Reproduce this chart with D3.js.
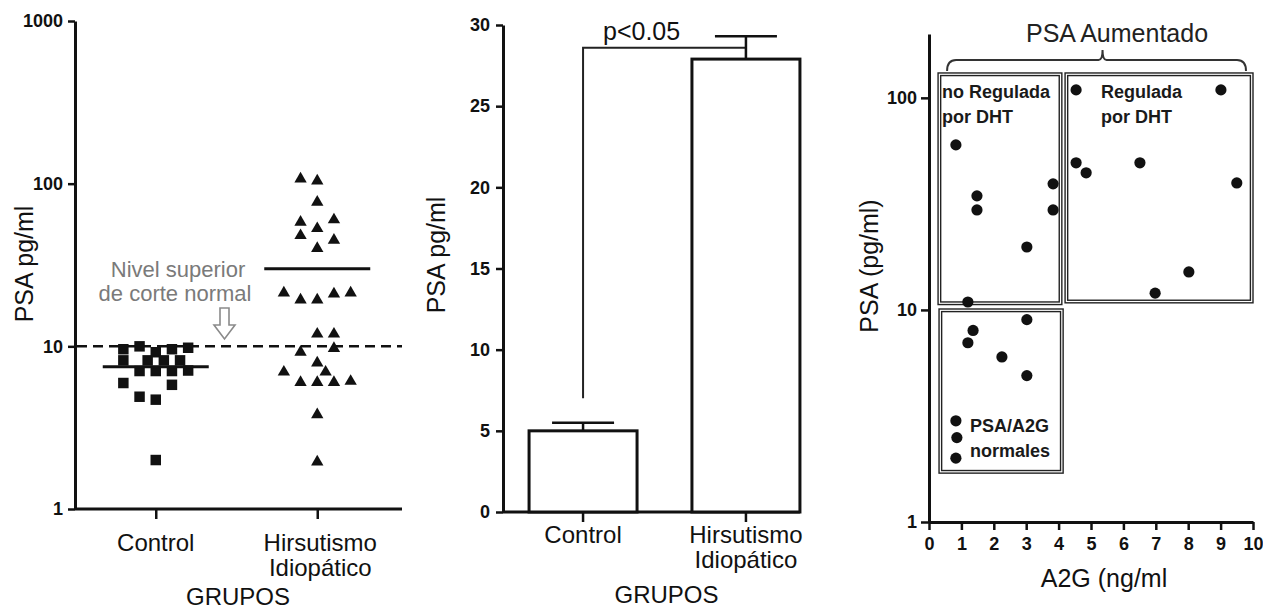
<!DOCTYPE html>
<html>
<head>
<meta charset="utf-8">
<script src="https://cdn.jsdelivr.net/npm/d3@7"></script>
<style>
	body { margin: 0; background: #fff; }
	svg text { font-family: "Liberation Sans", Arial, sans-serif; }
</style>
</head>
<body>
<svg id="chart" width="1263" height="609"></svg>
<script>
// ---- data ----
const groups = ["Control", "Hirsutismo Idiopático"];
const groupLines = [["Control"], ["Hirsutismo", "Idiopático"]];

// panel A: individual PSA values, slot = column in the dot arrangement
const controlPsa = [9.6, 8.2, 5.95, 10.0, 7.05, 4.9, 8.2, 9.2, 7.05, 4.7, 2.0, 8.2, 9.6, 7.05, 5.8, 8.2, 9.8, 7.1];
const controlSlot = [-2, -2, -2, -1, -1, -1, -0.5, 0, 0, 0, 0, 0.5, 1, 1, 1, 1.5, 2, 2];
const hirsutPsa = [107, 104, 77, 58, 48, 53, 60, 45, 40, 21.3, 19.3, 19.3, 21, 21.3, 11.9, 11.9, 9.2, 9.7, 7.9, 6.95, 6.95, 6, 6, 6, 6.1, 3.8, 1.95];
const hirsutSlot = [-1, 0, 0, -1, -1, 0, 1, 1, 0, -2, -1, 0, 1, 2, 0, 1, -1, 1, 0, 0.5, -2, -1, 0, 1, 2, 0, 0];
const groupMeansA = [7.5, 30];
const cutoff = 10;

// panel B: mean +- SEM
const barMeans = [5.0, 27.9];
const barSem = [0.5, 1.4];
const bracketLow = 7.0;
const bracketHigh = 28.6;
const pLabel = "p<0.05";

// panel C: A2G vs PSA
const a2g = [0.83, 1.48, 1.48, 3.83, 3.83, 3.02, 1.2, 4.54, 9.01, 4.54, 4.85, 6.51, 9.5, 8.02, 6.98, 3.02, 1.36, 1.2, 2.25, 3.02, 0.83, 0.86, 0.83];
const psa = [60, 34.5, 29.6, 39.3, 29.6, 19.8, 10.9, 109, 109, 49.4, 44.3, 49.4, 39.7, 15.1, 12.0, 9.0, 8.0, 7.0, 6.0, 4.9, 3.0, 2.5, 2.0];
const regionNames = [["no Regulada", "por DHT"], ["Regulada", "por DHT"], ["PSA/A2G", "normales"]];
const regionA2g = [[0.28, 4.1], [4.2, 10.0], [0.31, 4.14]];
const regionPsa = [[10.6, 131], [10.8, 131], [1.7, 10.1]];

// ---- helpers ----
const ink = "#111";
const svg = d3.select("#chart");

function styleAxis(g) {
	g.select(".domain").attr("stroke", ink).attr("stroke-width", 3);
	g.selectAll(".tick line").attr("stroke", ink).attr("stroke-width", 2.5);
	g.selectAll(".tick text")
		.attr("font-size", 18)
		.attr("font-weight", "bold")
		.attr("fill", ink);
}

function yTitle(x, y, text) {
	svg.append("text")
		.attr("transform", `translate(${x},${y}) rotate(-90)`)
		.attr("text-anchor", "middle")
		.attr("font-size", 25)
		.attr("fill", ink)
		.text(text);
}

// ================= Panel A =================
const yA = d3.scaleLog().domain([1, 1000]).range([509, 21]);
const xA = d3.scalePoint().domain(groups).range([75, 398]).padding(0.5);
const slotA = 16.2;

const axA = svg.append("g")
	.attr("transform", "translate(75,0)")
	.call(d3.axisLeft(yA).tickValues([1, 10, 100, 1000]).tickFormat(d3.format("d"))
		.tickSize(7).tickSizeOuter(0).tickPadding(5));
styleAxis(axA);

const bxA = svg.append("g")
	.attr("transform", "translate(0,509)")
	.call(d3.axisBottom(xA).tickSize(10).tickSizeOuter(0).tickFormat(""));
bxA.select(".domain").attr("d", "M75,0H402");
styleAxis(bxA);

// cut-off line
svg.append("line")
	.attr("x1", 77).attr("x2", 402)
	.attr("y1", yA(cutoff)).attr("y2", yA(cutoff))
	.attr("stroke", ink).attr("stroke-width", 2.5)
	.attr("stroke-dasharray", "10,6");

// squares
svg.append("g").selectAll("path")
	.data(controlPsa)
	.join("path")
	.attr("transform", (d, i) => `translate(${xA(groups[0]) + controlSlot[i] * slotA},${yA(d)})`)
	.attr("d", d3.symbol(d3.symbolSquare, 110))
	.attr("fill", ink);

// triangles
svg.append("g").selectAll("path")
	.data(hirsutPsa)
	.join("path")
	.attr("transform", (d, i) => `translate(${xA(groups[1]) + hirsutSlot[i] * 16.7},${yA(d)})`)
	.attr("d", d3.symbol(d3.symbolTriangle, 66))
	.attr("fill", ink);

// group means
svg.append("g").selectAll("line")
	.data(groupMeansA)
	.join("line")
	.attr("x1", (d, i) => xA(groups[i]) - 53)
	.attr("x2", (d, i) => xA(groups[i]) + 53)
	.attr("y1", (d) => yA(d))
	.attr("y2", (d) => yA(d))
	.attr("stroke", ink)
	.attr("stroke-width", 3);

// note + hollow arrow
const noteA = svg.append("g").attr("fill", "#7a7a7a").attr("font-size", 22).attr("text-anchor", "middle");
noteA.append("text").attr("x", 178).attr("y", 277).text("Nivel superior");
noteA.append("text").attr("x", 175).attr("y", 301).text("de corte normal");
svg.append("path")
	.attr("d", "M220,308 H229 V325 H235 L224.5,339 L214,325 H220 Z")
	.attr("fill", "#fff")
	.attr("stroke", "#8a8a8a")
	.attr("stroke-width", 1.6);

groupLines.forEach((lines, i) => {
	lines.forEach((t, j) => {
		svg.append("text")
			.attr("x", xA(groups[i]) + (i ? 3 : 0))
			.attr("y", 551 + j * 25)
			.attr("text-anchor", "middle")
			.attr("font-size", 24)
			.attr("fill", ink)
			.text(t);
	});
});
svg.append("text").attr("x", 238).attr("y", 605).attr("text-anchor", "middle")
	.attr("font-size", 24).attr("fill", ink).text("GRUPOS");
yTitle(33, 264, "PSA pg/ml");

// ================= Panel B =================
const yB = d3.scaleLinear().domain([0, 30]).range([512, 25]);
const xB = d3.scaleBand().domain(groups).range([503, 826]).paddingInner(0.337).paddingOuter(0.16);
const bw = xB.bandwidth();

const axB = svg.append("g")
	.attr("transform", "translate(503,0)")
	.call(d3.axisLeft(yB).tickValues([0, 5, 10, 15, 20, 25, 30])
		.tickSize(7).tickSizeOuter(0).tickPadding(6));
styleAxis(axB);

const bxB = svg.append("g")
	.attr("transform", "translate(0,512)")
	.call(d3.axisBottom(xB).tickSize(10).tickSizeOuter(0).tickFormat(""));
bxB.select(".domain").attr("d", `M503,0H${xB(groups[1]) + bw}`);
styleAxis(bxB);

// bracket (drawn first, bars on top)
const cx0 = xB(groups[0]) + bw / 2;
const cx1 = xB(groups[1]) + bw / 2;
svg.append("path")
	.attr("d", `M${cx0},${yB(bracketLow)} V${yB(bracketHigh)} H${cx1} V${yB(barMeans[1])}`)
	.attr("fill", "none")
	.attr("stroke", "#222")
	.attr("stroke-width", 2);
svg.append("text").attr("x", 603).attr("y", 40).attr("font-size", 25).attr("fill", ink).text(pLabel);

// error bars
groups.forEach((g, i) => {
	const cx = xB(g) + bw / 2;
	svg.append("line")
		.attr("x1", cx).attr("x2", cx)
		.attr("y1", yB(barMeans[i])).attr("y2", yB(barMeans[i] + barSem[i]))
		.attr("stroke", ink).attr("stroke-width", 2.5);
	svg.append("line")
		.attr("x1", cx - 31).attr("x2", cx + 31)
		.attr("y1", yB(barMeans[i] + barSem[i])).attr("y2", yB(barMeans[i] + barSem[i]))
		.attr("stroke", ink).attr("stroke-width", 2.5);
});

svg.append("g").selectAll("rect")
	.data(barMeans)
	.join("rect")
	.attr("x", (d, i) => xB(groups[i]))
	.attr("y", (d) => yB(d))
	.attr("width", bw)
	.attr("height", (d) => yB(0) - yB(d))
	.attr("fill", "#fff")
	.attr("stroke", ink)
	.attr("stroke-width", 3);

groupLines.forEach((lines, i) => {
	lines.forEach((t, j) => {
		svg.append("text")
			.attr("x", xB(groups[i]) + bw / 2)
			.attr("y", 543 + j * 25)
			.attr("text-anchor", "middle")
			.attr("font-size", 24)
			.attr("fill", ink)
			.text(t);
	});
});
svg.append("text").attr("x", (cx0 + cx1) / 2 + 2).attr("y", 603).attr("text-anchor", "middle")
	.attr("font-size", 24).attr("fill", ink).text("GRUPOS");
yTitle(445, 255, "PSA pg/ml");

// ================= Panel C =================
const xC = d3.scaleLinear().domain([0, 10]).range([929, 1253]);
const yC = d3.scaleLog().domain([1, 200]).range([522, 34]);

// region boxes (double outline)
const regions = svg.append("g");
regionNames.forEach((names, i) => {
	const x0 = xC(regionA2g[i][0]), x1 = xC(regionA2g[i][1]);
	const y0 = yC(regionPsa[i][1]), y1 = yC(regionPsa[i][0]);
	regions.append("rect")
		.attr("x", x0).attr("y", y0).attr("width", x1 - x0).attr("height", y1 - y0)
		.attr("fill", "#fff").attr("stroke", "#222").attr("stroke-width", 1.4);
	regions.append("rect")
		.attr("x", x0 + 2.6).attr("y", y0 + 2.6).attr("width", x1 - x0 - 5.2).attr("height", y1 - y0 - 5.2)
		.attr("fill", "none").attr("stroke", "#222").attr("stroke-width", 1.4);
});

// region labels
const labelOffset = [[4, 25], [36, 25], [31, -41]];
regionNames.forEach((names, i) => {
	const x0 = xC(regionA2g[i][0]);
	const yRef = i === 2 ? yC(regionPsa[i][0]) : yC(regionPsa[i][1]);
	names.forEach((t, j) => {
		regions.append("text")
			.attr("x", x0 + labelOffset[i][0])
			.attr("y", yRef + labelOffset[i][1] + j * 25)
			.attr("font-size", 18)
			.attr("font-weight", "bold")
			.attr("fill", "#1a1a1a")
			.text(t);
	});
});

const axC = svg.append("g")
	.attr("transform", "translate(929,0)")
	.call(d3.axisLeft(yC).tickValues([1, 10, 100]).tickFormat(d3.format("d"))
		.tickSize(8).tickSizeOuter(0).tickPadding(4));
styleAxis(axC);

const bxC = svg.append("g")
	.attr("transform", "translate(0,522)")
	.call(d3.axisBottom(xC).ticks(10).tickSize(8).tickSizeOuter(0).tickPadding(7));
styleAxis(bxC);

svg.append("g").selectAll("circle")
	.data(psa)
	.join("circle")
	.attr("cx", (d, i) => xC(a2g[i]))
	.attr("cy", (d) => yC(d))
	.attr("r", 5.6)
	.attr("fill", ink);

// brace over the increased-PSA boxes
const bL = xC(regionA2g[0][0]) + 9;
const bR = xC(regionA2g[1][1]) - 7;
const bM = (xC(regionA2g[0][0]) + xC(regionA2g[1][1])) / 2 + 7;
svg.append("path")
	.attr("d", `M${bL},71 Q${bL},60 ${bL + 9},60 H${bM - 4} Q${bM},60 ${bM},50 Q${bM},60 ${bM + 4},60 H${bR - 9} Q${bR},60 ${bR},71`)
	.attr("fill", "none")
	.attr("stroke", "#333")
	.attr("stroke-width", 2);
svg.append("text").attr("x", 1117).attr("y", 42).attr("text-anchor", "middle")
	.attr("font-size", 25).attr("fill", "#222").text("PSA Aumentado");

svg.append("text").attr("x", 1104).attr("y", 587).attr("text-anchor", "middle")
	.attr("font-size", 25).attr("fill", ink).text("A2G (ng/ml");
yTitle(878, 266, "PSA (pg/ml)");
</script>
</body>
</html>
